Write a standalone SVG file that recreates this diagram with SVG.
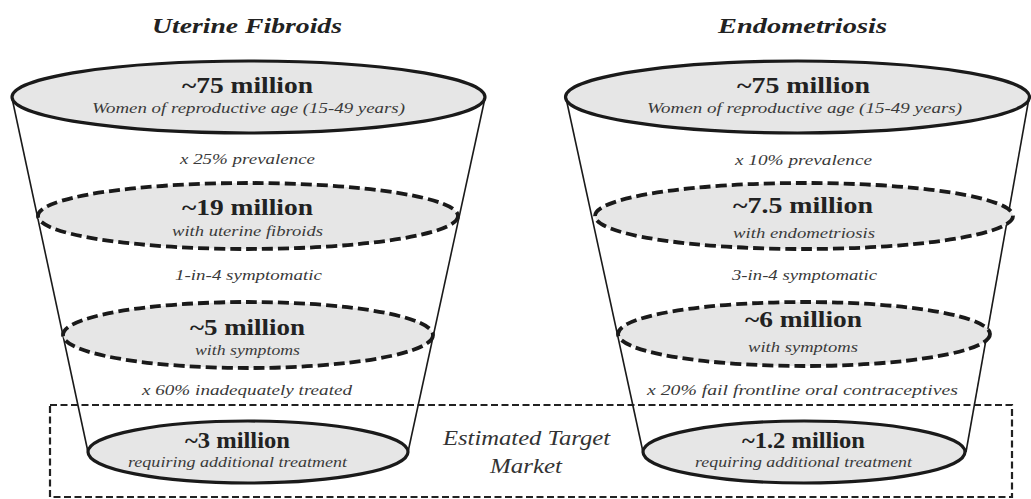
<svg xmlns="http://www.w3.org/2000/svg" width="1031" height="499" viewBox="0 0 1031 499">
<style>
text{font-family:"Liberation Serif",serif;text-anchor:middle;}
.title{font-size:22px;font-weight:bold;font-style:italic;fill:#222;}
.num{font-size:23px;font-weight:bold;fill:#222;}
.sub{font-size:15px;font-style:italic;fill:#3a3a3a;}
.step{font-size:15px;font-style:italic;fill:#3a3a3a;}
.mk{font-size:21px;font-style:italic;fill:#333;}
.solid{fill:#e6e6e6;stroke:#1a1a1a;stroke-width:3.2;}
.dash{fill:#e6e6e6;stroke:#1a1a1a;stroke-width:3.8;stroke-dasharray:11 5;}
.side{stroke:#1a1a1a;stroke-width:1.6;fill:none;}
.box{fill:none;stroke:#222;stroke-width:2.2;stroke-dasharray:7 3.5;}
</style>
<rect width="1031" height="499" fill="#ffffff"/>
<g id="target-market">
<rect class="box" x="50" y="405" width="962" height="92"/>
<text class="mk" x="526.5" y="445" textLength="167" lengthAdjust="spacingAndGlyphs">Estimated Target</text>
<text class="mk" x="526" y="473" textLength="72" lengthAdjust="spacingAndGlyphs">Market</text>
</g>
<g id="connectors">
<line class="side" x1="12" y1="98" x2="88" y2="452"/>
<line class="side" x1="485" y1="98" x2="408" y2="452"/>
<line class="side" x1="566" y1="98" x2="643" y2="452"/>
<line class="side" x1="1029" y1="98" x2="966" y2="452"/>
</g>
<g id="titles">
<text class="title" x="247" y="33" textLength="190" lengthAdjust="spacingAndGlyphs">Uterine Fibroids</text>
<text class="title" x="802.5" y="33" textLength="169" lengthAdjust="spacingAndGlyphs">Endometriosis</text>
</g>
<g id="uf-step-labels">
<text class="step" x="247.5" y="164" textLength="135" lengthAdjust="spacingAndGlyphs">x 25% prevalence</text>
<text class="step" x="248.5" y="280" textLength="147" lengthAdjust="spacingAndGlyphs">1-in-4 symptomatic</text>
<text class="step" x="247" y="395" textLength="210" lengthAdjust="spacingAndGlyphs">x 60% inadequately treated</text>
</g>
<g id="en-step-labels">
<text class="step" x="803.5" y="165" textLength="137" lengthAdjust="spacingAndGlyphs">x 10% prevalence</text>
<text class="step" x="804.5" y="280" textLength="145" lengthAdjust="spacingAndGlyphs">3-in-4 symptomatic</text>
<text class="step" x="802.5" y="395" textLength="311" lengthAdjust="spacingAndGlyphs">x 20% fail frontline oral contraceptives</text>
</g>
<g id="uf-75">
<ellipse class="solid" cx="248.5" cy="97" rx="236.5" ry="36"/>
<text class="num" x="247.5" y="93" textLength="131" lengthAdjust="spacingAndGlyphs">~75 million</text>
<text class="sub" x="248.5" y="113" textLength="313" lengthAdjust="spacingAndGlyphs">Women of reproductive age (15-49 years)</text>
</g>
<g id="uf-19">
<ellipse class="dash" cx="248" cy="216" rx="210" ry="33"/>
<text class="num" x="247.5" y="215" textLength="131" lengthAdjust="spacingAndGlyphs">~19 million</text>
<text class="sub" x="247.5" y="236" textLength="151" lengthAdjust="spacingAndGlyphs">with uterine fibroids</text>
</g>
<g id="uf-5">
<ellipse class="dash" cx="248" cy="335" rx="185" ry="33"/>
<text class="num" x="247.5" y="335" textLength="115" lengthAdjust="spacingAndGlyphs">~5 million</text>
<text class="sub" x="247.5" y="355" textLength="105" lengthAdjust="spacingAndGlyphs">with symptoms</text>
</g>
<g id="uf-3">
<ellipse class="solid" cx="248" cy="452" rx="160" ry="31"/>
<text class="num" x="237.5" y="448" textLength="105" lengthAdjust="spacingAndGlyphs">~3 million</text>
<text class="sub" x="237.5" y="467" textLength="219" lengthAdjust="spacingAndGlyphs">requiring additional treatment</text>
</g>
<g id="en-75">
<ellipse class="solid" cx="797.5" cy="97" rx="232" ry="36"/>
<text class="num" x="803.5" y="93" textLength="133" lengthAdjust="spacingAndGlyphs">~75 million</text>
<text class="sub" x="804.5" y="113" textLength="315" lengthAdjust="spacingAndGlyphs">Women of reproductive age (15-49 years)</text>
</g>
<g id="en-7-5">
<ellipse class="dash" cx="804" cy="216" rx="209" ry="33"/>
<text class="num" x="803" y="213" textLength="140" lengthAdjust="spacingAndGlyphs">~7.5 million</text>
<text class="sub" x="804" y="238" textLength="142" lengthAdjust="spacingAndGlyphs">with endometriosis</text>
</g>
<g id="en-6">
<ellipse class="dash" cx="804" cy="334" rx="186" ry="32"/>
<text class="num" x="803.5" y="327" textLength="117" lengthAdjust="spacingAndGlyphs">~6 million</text>
<text class="sub" x="803" y="352" textLength="110" lengthAdjust="spacingAndGlyphs">with symptoms</text>
</g>
<g id="en-1-2">
<ellipse class="solid" cx="804" cy="452" rx="161" ry="31"/>
<text class="num" x="803.5" y="448" textLength="123" lengthAdjust="spacingAndGlyphs">~1.2 million</text>
<text class="sub" x="803.5" y="467" textLength="217" lengthAdjust="spacingAndGlyphs">requiring additional treatment</text>
</g>
</svg>
